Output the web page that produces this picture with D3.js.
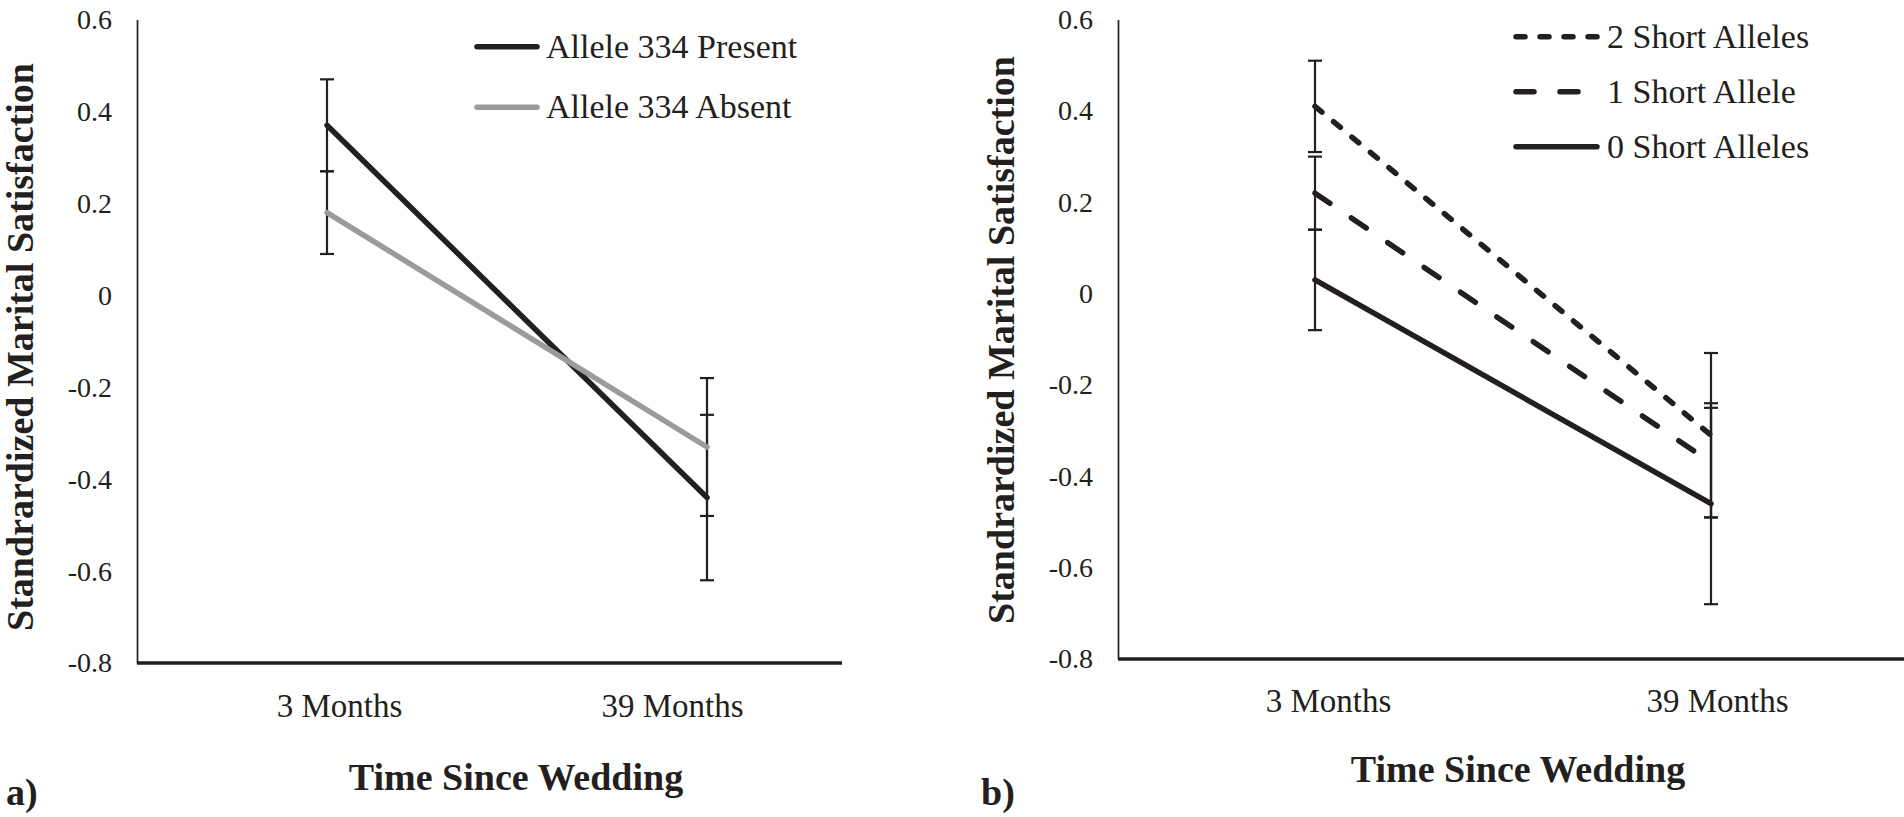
<!DOCTYPE html>
<html>
<head>
<meta charset="utf-8">
<script src="https://cdn.jsdelivr.net/npm/d3@7"></script>
<style>
body { margin: 0; background: #fff; }
svg { display: block; }
svg text { font-family: "Liberation Serif", "Times New Roman", serif; }
</style>
</head>
<body>
<div id="chart"></div>
<script>
// values
let timePoints = ["3 Months", "39 Months"];
let yTicks = [0.6, 0.4, 0.2, 0, -0.2, -0.4, -0.6, -0.8];

let alleleNames = ["Allele 334 Present", "Allele 334 Absent"];
let presentMeans = [0.37, -0.44];
let presentErrors = [0.10, 0.18];
let absentMeans = [0.18, -0.33];
let absentErrors = [0.09, 0.15];

let shortNames = ["2 Short Alleles", "1 Short Allele", "0 Short Alleles"];
let twoShortMeans = [0.41, -0.31];
let twoShortErrors = [0.10, 0.18];
let oneShortMeans = [0.22, -0.37];
let oneShortErrors = [0.08, 0.12];
let zeroShortMeans = [0.03, -0.46];
let zeroShortErrors = [0.11, 0.22];

let yTitle = "Standrardized Marital Satisfaction";
let xTitle = "Time Since Wedding";

const INK = "#231f20";
const GREY = "#9a9b9d";

let svg = d3.select("#chart")
    .append("svg")
    .attr("width", 1904)
    .attr("height", 817);

// panel layout (pixel positions only, no data)
let panelA = {
    axisX: 137, top: 19.6, bottom: 663, xEnd: 842,
    points: [327, 707], labels: [339, 672], labelY: 717,
    yTitleX: 33, yTitleY: 347, xTitleX: 516, xTitleY: 790,
    tag: "a)", tagX: 6,
    legend: {x1: 477, x2: 537, textX: 546, ys: [46.7, 107.3]}
};
let panelB = {
    axisX: 1118, top: 19.6, bottom: 659, xEnd: 1904,
    points: [1315, 1711], labels: [1328, 1717], labelY: 712,
    yTitleX: 1014, yTitleY: 340, xTitleX: 1518, xTitleY: 782,
    tag: "b)", tagX: 981,
    legend: {x1: 1516, x2: 1597, textX: 1607, ys: [36.7, 91.7, 146.7]}
};

let seriesA = [
    {name: alleleNames[0], means: presentMeans, errors: presentErrors, color: INK, dash: null},
    {name: alleleNames[1], means: absentMeans, errors: absentErrors, color: GREY, dash: null}
];
let seriesB = [
    {name: shortNames[0], means: twoShortMeans, errors: twoShortErrors, color: INK, dash: "9,15"},
    {name: shortNames[1], means: oneShortMeans, errors: oneShortErrors, color: INK, dash: "18,26"},
    {name: shortNames[2], means: zeroShortMeans, errors: zeroShortErrors, color: INK, dash: null}
];

function drawPanel(cfg, series) {
    let g = svg.append("g");

    let y = d3.scaleLinear()
        .domain([-0.8, 0.6])
        .range([cfg.bottom, cfg.top]);

    let x = d3.scalePoint()
        .domain(timePoints)
        .range(cfg.points);

    // tick labels sit a little apart from the points in the original
    let xLab = d3.scalePoint()
        .domain(timePoints)
        .range(cfg.labels);

    // y axis
    let yAxis = g.append("g")
        .attr("transform", `translate(${cfg.axisX},0)`)
        .call(d3.axisLeft(y)
            .tickValues(yTicks)
            .tickSize(0)
            .tickSizeOuter(0)
            .tickPadding(25)
            .tickFormat(d => String(d)));
    yAxis.attr("font-family", null).attr("font-size", 28);
    yAxis.select(".domain").attr("stroke", INK).attr("stroke-width", 1.7);
    yAxis.selectAll("text").attr("fill", INK);

    // x axis labels
    let xAxis = g.append("g")
        .attr("transform", `translate(0,${cfg.labelY})`)
        .call(d3.axisBottom(xLab).tickSize(0).tickPadding(0));
    xAxis.attr("font-family", null).attr("font-size", 33);
    xAxis.select(".domain").remove();
    xAxis.selectAll("text").attr("y", 0).attr("dy", 0).attr("fill", INK);

    // bottom axis line
    g.append("line")
        .attr("x1", cfg.axisX)
        .attr("x2", cfg.xEnd)
        .attr("y1", y(-0.8))
        .attr("y2", y(-0.8))
        .attr("stroke", INK)
        .attr("stroke-width", 3.3);

    // error bars
    series.forEach(function(s) {
        s.means.forEach(function(m, i) {
            let cx = x(timePoints[i]);
            let lo = y(m - s.errors[i]), hi = y(m + s.errors[i]);
            let eb = g.append("g").attr("stroke", INK).attr("stroke-width", 2.2);
            eb.append("line").attr("x1", cx).attr("x2", cx).attr("y1", lo).attr("y2", hi);
            eb.append("line").attr("x1", cx - 7).attr("x2", cx + 7).attr("y1", lo).attr("y2", lo);
            eb.append("line").attr("x1", cx - 7).attr("x2", cx + 7).attr("y1", hi).attr("y2", hi);
        });
    });

    // series lines
    let line = d3.line()
        .x((d, i) => x(timePoints[i]))
        .y(d => y(d));

    series.forEach(function(s) {
        g.append("path")
            .datum(s.means)
            .attr("d", line)
            .attr("fill", "none")
            .attr("stroke", s.color)
            .attr("stroke-width", 5.5)
            .attr("stroke-linecap", "round")
            .attr("stroke-dasharray", s.dash);
    });

    // legend
    series.forEach(function(s, i) {
        let ly = cfg.legend.ys[i];
        g.append("line")
            .attr("x1", cfg.legend.x1)
            .attr("x2", cfg.legend.x2)
            .attr("y1", ly)
            .attr("y2", ly)
            .attr("stroke", s.color)
            .attr("stroke-width", 5.5)
            .attr("stroke-linecap", "round")
            .attr("stroke-dasharray", s.dash);
        g.append("text")
            .attr("x", cfg.legend.textX)
            .attr("y", ly + 11)
            .attr("font-size", 34)
            .attr("fill", INK)
            .text(s.name);
    });

    // y title
    g.append("text")
        .attr("transform", `translate(${cfg.yTitleX},${cfg.yTitleY}) rotate(-90)`)
        .style("text-anchor", "middle")
        .attr("font-size", 38)
        .attr("font-weight", "bold")
        .attr("fill", INK)
        .text(yTitle);

    // x title
    g.append("text")
        .attr("x", cfg.xTitleX)
        .attr("y", cfg.xTitleY)
        .style("text-anchor", "middle")
        .attr("font-size", 38)
        .attr("font-weight", "bold")
        .attr("fill", INK)
        .text(xTitle);

    // panel tag
    g.append("text")
        .attr("x", cfg.tagX)
        .attr("y", 805)
        .attr("font-size", 38)
        .attr("font-weight", "bold")
        .attr("fill", INK)
        .text(cfg.tag);
}

drawPanel(panelA, seriesA);
drawPanel(panelB, seriesB);
</script>
</body>
</html>
